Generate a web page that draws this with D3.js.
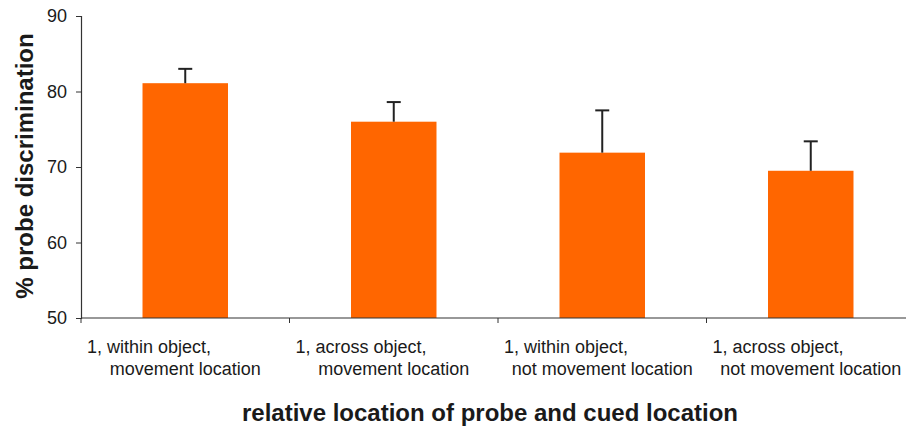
<!DOCTYPE html>
<html>
<head>
<meta charset="utf-8">
<script src="https://cdn.jsdelivr.net/npm/d3@7"></script>
<style>
  body { margin: 0; background: #fff; }
  text { font-family: "Liberation Sans", Arial, sans-serif; fill: #1a1a1a; }
</style>
</head>
<body>
<div id="chart"></div>
<script>
// Chart data
const categories = ["c1", "c2", "c3", "c4"];
const labelLine1 = ["1, within object,", "1, across object,", "1, within object,", "1, across object,"];
const labelLine2 = ["movement location", "movement location", "not movement location", "not movement location"];
const means = [81.1, 76.0, 71.9, 69.5];
const errors = [1.9, 2.6, 5.6, 3.9];
const yTicks = [50, 60, 70, 80, 90];

const width = 906;
const height = 431;
const margin = { top: 16, right: -9, bottom: 113, left: 81 };

const svg = d3.select("#chart")
    .append("svg")
    .attr("width", width)
    .attr("height", height);

const x = d3.scaleBand()
    .domain(categories)
    .range([margin.left, width - margin.right])
    .paddingInner(0)
    .paddingOuter(0);

const y = d3.scaleLinear()
    .domain([50, 90])
    .range([height - margin.bottom, margin.top]);

const barW = x.bandwidth() * 0.41;

// bars
svg.selectAll("rect.bar")
    .data(categories)
    .enter()
    .append("rect")
    .attr("class", "bar")
    .attr("x", (d, i) => x(d) + x.bandwidth() / 2 - barW / 2)
    .attr("y", (d, i) => y(means[i]))
    .attr("width", barW)
    .attr("height", (d, i) => y(50) - y(means[i]))
    .attr("fill", "#ff6600");

// error bars (upper only)
const capW = 14;
const err = svg.selectAll("g.err")
    .data(categories)
    .enter()
    .append("g")
    .attr("class", "err")
    .attr("stroke", "#222")
    .attr("stroke-width", 2);

err.append("line")
    .attr("x1", d => x(d) + x.bandwidth() / 2)
    .attr("x2", d => x(d) + x.bandwidth() / 2)
    .attr("y1", (d, i) => y(means[i]))
    .attr("y2", (d, i) => y(means[i] + errors[i]));

err.append("line")
    .attr("x1", d => x(d) + x.bandwidth() / 2 - capW / 2)
    .attr("x2", d => x(d) + x.bandwidth() / 2 + capW / 2)
    .attr("y1", (d, i) => y(means[i] + errors[i]))
    .attr("y2", (d, i) => y(means[i] + errors[i]));

// y axis
const yAxis = svg.append("g")
    .attr("transform", `translate(${margin.left},0)`)
    .call(d3.axisLeft(y).tickValues(yTicks).tickSize(5).tickPadding(9));
yAxis.select(".domain").attr("stroke", "#333").attr("stroke-width", 1.2);
yAxis.selectAll(".tick line").attr("stroke", "#333");
yAxis.selectAll(".tick text")
    .attr("font-size", "18px")
    .attr("fill", "#1a1a1a")
    .style("font-family", '"Liberation Sans", Arial, sans-serif');

// x axis line with boundary ticks
const xAxis = svg.append("g");
xAxis.append("line")
    .attr("x1", margin.left)
    .attr("x2", width - margin.right)
    .attr("y1", y(50))
    .attr("y2", y(50))
    .attr("stroke", "#333")
    .attr("stroke-width", 1.2);
xAxis.selectAll("line.xt")
    .data(categories)
    .enter()
    .append("line")
    .attr("class", "xt")
    .attr("x1", d => x(d))
    .attr("x2", d => x(d))
    .attr("y1", y(50))
    .attr("y2", y(50) + 5)
    .attr("stroke", "#333");

// category labels
svg.selectAll("text.l1")
    .data(categories)
    .enter()
    .append("text")
    .attr("class", "l1")
    .attr("x", d => x(d) + 6)
    .attr("y", 353)
    .attr("font-size", "18px")
    .text((d, i) => labelLine1[i]);

svg.selectAll("text.l2")
    .data(categories)
    .enter()
    .append("text")
    .attr("class", "l2")
    .attr("x", d => x(d) + x.bandwidth() / 2)
    .attr("y", 375)
    .attr("text-anchor", "middle")
    .attr("font-size", "18px")
    .text((d, i) => labelLine2[i]);

// axis titles
svg.append("text")
    .attr("x", 490)
    .attr("y", 421)
    .attr("text-anchor", "middle")
    .attr("font-size", "24px")
    .attr("font-weight", "bold")
    .text("relative location of probe and cued location");

svg.append("text")
    .attr("transform", "translate(33,166) rotate(-90)")
    .attr("text-anchor", "middle")
    .attr("font-size", "24px")
    .attr("font-weight", "bold")
    .text("% probe discrimination");
</script>
</body>
</html>
